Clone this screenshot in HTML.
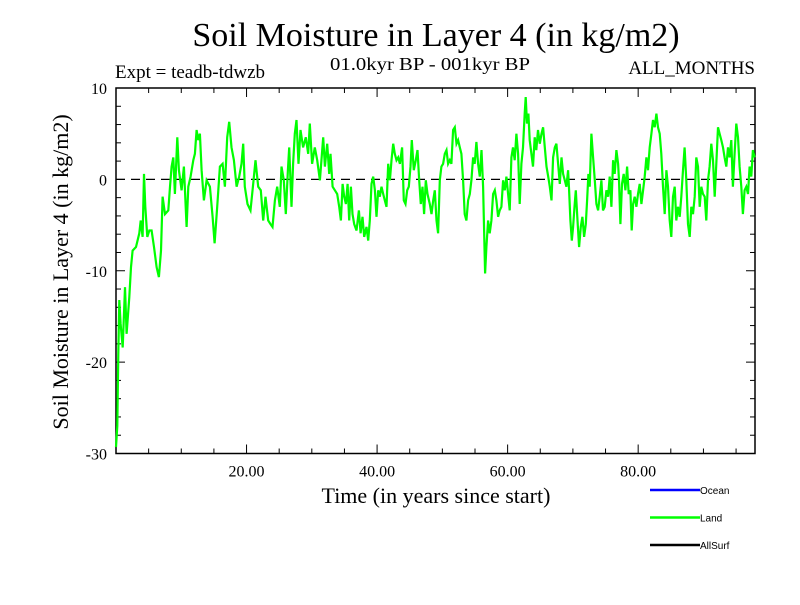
<!DOCTYPE html>
<html><head><meta charset="utf-8"><style>
html,body{margin:0;padding:0;background:#fff;}
svg text{font-family:"Liberation Serif",serif;fill:#000;}
</style></head><body>
<svg id="chart" width="800" height="600" viewBox="0 0 800 600" xmlns="http://www.w3.org/2000/svg">
<rect width="800" height="600" fill="#fff"/>
<text x="436" y="46" font-size="34" text-anchor="middle">Soil Moisture in Layer 4 (in kg/m2)</text>
<text x="115" y="78" font-size="19">Expt = teadb-tdwzb</text>
<text x="330" y="70" font-size="18" textLength="200" lengthAdjust="spacingAndGlyphs">01.0kyr BP - 001kyr BP</text>
<text x="755" y="74" font-size="19" text-anchor="end">ALL_MONTHS</text>
<text x="436" y="503" font-size="22" text-anchor="middle">Time (in years since start)</text>
<text x="0" y="0" font-size="22" text-anchor="middle" transform="translate(68,272) rotate(-90)">Soil Moisture in Layer 4 (in kg/m2)</text>
<g id="axes"></g>
<g id="series"></g>
<g id="legend"></g>
</svg>
<script>
const yTicks=[10,0,-10,-20,-30];
const yTickLabels=["10","0","-10","-20","-30"];
const xTicks=[20,40,60,80];
const xTickLabels=["20.00","40.00","60.00","80.00"];
const legendNames=["Ocean","Land","AllSurf"];
const legendColors=["#0000ff","#00ff00","#000000"];
const years=[0,0.2,0.36,0.51,0.71,1.02,1.38,1.63,2.04,2.30,2.55,3.06,3.57,3.78,4.08,4.29,4.49,4.80,5.10,5.46,5.82,6.22,6.58,6.89,7.14,7.5,8.01,8.27,8.52,8.78,9.03,9.39,9.64,10.05,10.41,10.82,11.07,11.43,11.84,12.09,12.35,12.6,12.86,13.11,13.47,13.88,14.39,14.80,15.1,15.51,15.92,16.33,16.68,17.04,17.35,17.7,18.06,18.47,18.88,19.23,19.49,19.74,20.15,20.61,21.02,21.38,21.79,22.19,22.55,22.91,23.32,23.67,23.98,24.34,24.69,25.1,25.36,25.71,26.02,26.33,26.53,26.89,27.14,27.4,27.65,27.96,28.27,28.67,29.08,29.44,29.69,30.05,30.46,30.82,31.24,
31.75,32.01,32.36,32.67,32.87,33.18,33.54,33.89,34.2,34.45,34.71,34.96,35.22,35.48,35.73,35.99,36.24,36.5,36.85,37.21,37.47,37.77,38.03,38.38,38.64,38.89,39.15,39.4,39.66,39.91,40.17,40.42,40.68,40.93,41.19,41.44,41.7,41.96,42.21,42.47,42.72,42.98,43.23,43.49,43.84,44.1,44.35,44.61,44.86,45.12,45.32,45.63,45.93,46.19,46.45,46.7,46.96,47.21,47.47,47.72,48.08,48.33,48.59,48.84,49.1,49.35,49.61,49.86,50.12,50.37,50.63,50.88,51.14,51.39,51.65,51.9,52.16,52.41,52.67,52.92,53.18,53.43,53.69,53.94,54.2,54.45,54.71,54.96,55.22,55.47,55.73,55.99,56.24,56.39,56.55,56.75,57.01,57.26,57.52,57.77,58.03,58.28,58.54,58.79,59.05,59.3,59.56,59.81,60.07,60.32,60.58,60.83,61.09,61.34,61.6,61.85,62.11,62.36,62.62,62.77,62.97,63.18,63.38,63.64,63.89,64.15,64.4,64.66,
64.93,65.19,65.44,65.7,65.95,66.21,66.46,66.72,66.97,67.23,67.48,67.74,67.99,68.25,68.5,68.76,69.01,69.27,69.42,69.62,69.83,70.03,70.24,70.44,70.7,70.95,71.21,71.46,71.72,71.97,72.18,72.38,72.58,72.84,73.09,73.35,73.6,73.86,74.11,74.37,74.62,74.88,75.13,75.39,75.64,75.9,76.16,76.41,76.67,76.92,77.07,77.28,77.53,77.79,78.04,78.3,78.55,78.81,79.01,79.22,79.47,79.73,79.98,80.24,80.49,80.75,81.0,81.26,81.51,81.77,82.02,82.28,82.53,82.79,83.04,83.3,83.55,83.81,84.06,84.32,84.57,84.83,85.08,85.34,85.59,85.85,86.1,86.36,86.61,86.87,87.12,87.38,87.63,87.89,88.14,88.4,88.66,88.91,89.17,89.42,89.68,89.93,90.19,90.44,90.7,90.95,91.21,91.46,91.72,91.97,92.23,92.48,92.74,92.99,93.25,93.5,93.76,94.01,94.27,94.52,94.78,95.03,95.29,95.54,95.8,96.05,96.31,96.56,96.82,97.07,97.33,97.58,97.84];
const landValues=[-29.3,-27,-19.1,-13.2,-15.8,-18.4,-11.8,-16.9,-12.9,-9.6,-7.8,-7.4,-5.9,-4.5,-6.3,0.6,-3.0,-6.3,-5.6,-5.6,-7.4,-9.6,-10.7,-7.8,-1.9,-3.8,-3.4,-0.8,1.4,2.4,-1.6,4.6,1.0,-1.2,1.4,-5.2,-0.8,0.3,2.1,2.8,5.4,4.3,5.0,1.0,-2.3,-0.1,-0.8,-4.1,-7.0,-3.0,1.4,1.7,-0.8,4.6,6.3,3.5,2.1,-0.8,0.3,1.7,3.9,-0.8,-2.7,-3.4,-0.5,2.1,-0.8,-1.2,-4.5,-1.9,-4.5,-4.9,-5.2,-2.3,-0.8,-3.0,1.4,-0.1,-3.8,1.0,3.5,-3.0,1.7,5.0,6.5,1.7,5.4,3.5,4.6,2.8,6.1,1.7,3.5,2.1,-0.1,
4.6,1.4,3.9,0.6,2.8,-0.8,-1.2,-1.6,-3.0,-4.5,-0.5,-1.9,-2.7,-0.5,-4.5,-0.8,-3.8,-4.9,-5.6,-3.4,-5.9,-4.1,-6.3,-5.2,-6.7,-4.5,-0.5,0.3,-1.2,-4.1,-1.2,-1.9,-0.8,-1.6,-2.3,-3.0,1.7,-0.1,2.1,3.9,2.8,2.1,2.4,1.7,3.5,-2.3,-2.7,-1.2,-0.8,1.4,4.3,1.0,2.1,3.2,-0.1,-2.7,-0.8,-3.8,-0.1,-1.6,-2.7,-3.8,-2.3,-1.2,-4.5,-5.9,-0.1,1.4,1.7,2.8,3.2,1.7,2.1,1.7,5.4,5.7,3.9,4.3,3.5,2.8,-0.1,-3.8,-4.5,-2.3,-1.6,-0.1,2.4,1.7,4.1,1.7,0.3,3.2,-0.8,-5.6,-10.3,-7.4,-4.5,-5.9,-4.5,-1.6,-1.2,-2.3,-4.1,-3.4,-3.0,-0.1,-1.2,0.3,-1.6,-3.4,2.4,3.5,2.1,5.0,2.8,-2.7,1.7,3.5,7.2,9.0,6.1,7.2,4.3,2.8,1.4,4.6,3.2,5.4,3.9,
5.0,5.7,3.5,1.4,0.3,-0.8,-2.3,2.4,3.5,3.9,1.7,-0.5,2.4,0.6,-0.1,-0.8,1.0,-1.2,-4.5,-6.7,-5.2,-3.0,-1.2,-4.5,-7.4,-5.2,-4.1,-6.3,-4.9,-2.3,0.6,-0.8,5.0,2.4,-0.1,-2.7,-3.4,-1.9,-0.1,-3.4,-3.0,-1.2,-1.9,0.3,-3.0,2.1,0.6,3.2,1.7,-0.1,-4.9,-0.5,0.6,-1.2,1.4,-1.6,-1.2,-5.6,-2.7,-1.9,-3.0,-1.6,-0.5,-2.7,-1.2,0.3,2.4,1.0,3.5,5.0,6.5,5.7,7.2,5.7,5.0,2.8,-0.8,-3.8,1.0,-0.8,-4.5,-6.3,-1.9,-0.8,-4.5,-3.0,-4.1,-1.9,1.0,3.5,-0.1,-4.9,-6.3,-3.0,-3.8,-1.9,2.4,1.4,-3.0,-0.8,-1.6,-1.9,-4.5,-0.1,1.4,3.9,2.1,-1.9,1.7,5.7,5.0,4.3,3.5,2.4,1.4,3.5,2.4,4.3,-0.8,2.8,6.1,4.6,1.4,-0.8,-3.8,-1.2,-0.8,-1.6,1.4,0.3,3.2,2.4,2.8];

const NS="http://www.w3.org/2000/svg";
const L=116,R=755,T=88,B=453.5;
const X0=0,X1=97.9,Y0=-30,Y1=10;
function xs(v){return L+(v-X0)/(X1-X0)*(R-L);}
function ys(v){return B-(v-Y0)/(Y1-Y0)*(B-T);}
function mk(tag,attrs,parent){const e=document.createElementNS(NS,tag);for(const k in attrs)e.setAttribute(k,attrs[k]);parent.appendChild(e);return e;}
const axes=document.getElementById('axes');
const zl=mk('line',{x1:L,x2:R,y1:ys(0),y2:ys(0),stroke:'#000','stroke-width':1.3,'stroke-dasharray':'9,6'},axes);


const frame=mk('rect',{x:L,y:T,width:R-L,height:B-T,fill:'none',stroke:'#000','stroke-width':1.5},axes);


for(let v=Y0;v<=Y1;v+=2){
  const major=(v%10===0);const len=major?9:5;const y=ys(v);
  const t1=mk('line',{x1:L,x2:L+len,y1:y,y2:y,stroke:'#000','stroke-width':1},axes);
  
  
  const t2=mk('line',{x1:R,x2:R-len,y1:y,y2:y,stroke:'#000','stroke-width':1},axes);
  
  
}
yTicks.forEach((v,i)=>{
  const t=mk('text',{x:L-9,y:ys(v)+6,'font-size':16,'text-anchor':'end'},axes);
  t.textContent=yTickLabels[i];
  
  
});
for(let v=5;v<X1;v+=5){
  const major=(v%20===0);const len=major?9:5;const x=xs(v);
  const a=mk('line',{x1:x,x2:x,y1:B,y2:B-len,stroke:'#000','stroke-width':1},axes);
  
  
  const b=mk('line',{x1:x,x2:x,y1:T,y2:T+len,stroke:'#000','stroke-width':1},axes);
  
  
}
xTicks.forEach((v,i)=>{
  const t=mk('text',{x:xs(v),y:B+23,'font-size':16,'text-anchor':'middle'},axes);
  t.textContent=xTickLabels[i];
  
  
});
const series=document.getElementById('series');
let d='';
for(let i=0;i<years.length;i++){d+=(i?'L':'M')+xs(years[i]).toFixed(1)+' '+ys(landValues[i]).toFixed(1);}
const p=mk('path',{d:d,fill:'none',stroke:'#00ff00','stroke-width':2.2,'stroke-linejoin':'miter'},series);


const lg=document.getElementById('legend');
legendNames.forEach((n,i)=>{
  const y=490+i*27.5;
  const ln=mk('line',{x1:650,x2:700,y1:y,y2:y,stroke:legendColors[i],'stroke-width':2.5},lg);
  
  
  const t=mk('text',{x:700,y:y+4,'font-size':10,style:'font-family:"Liberation Sans",sans-serif'},lg);
  t.textContent=n;
  
  
});
</script>
</body></html>
